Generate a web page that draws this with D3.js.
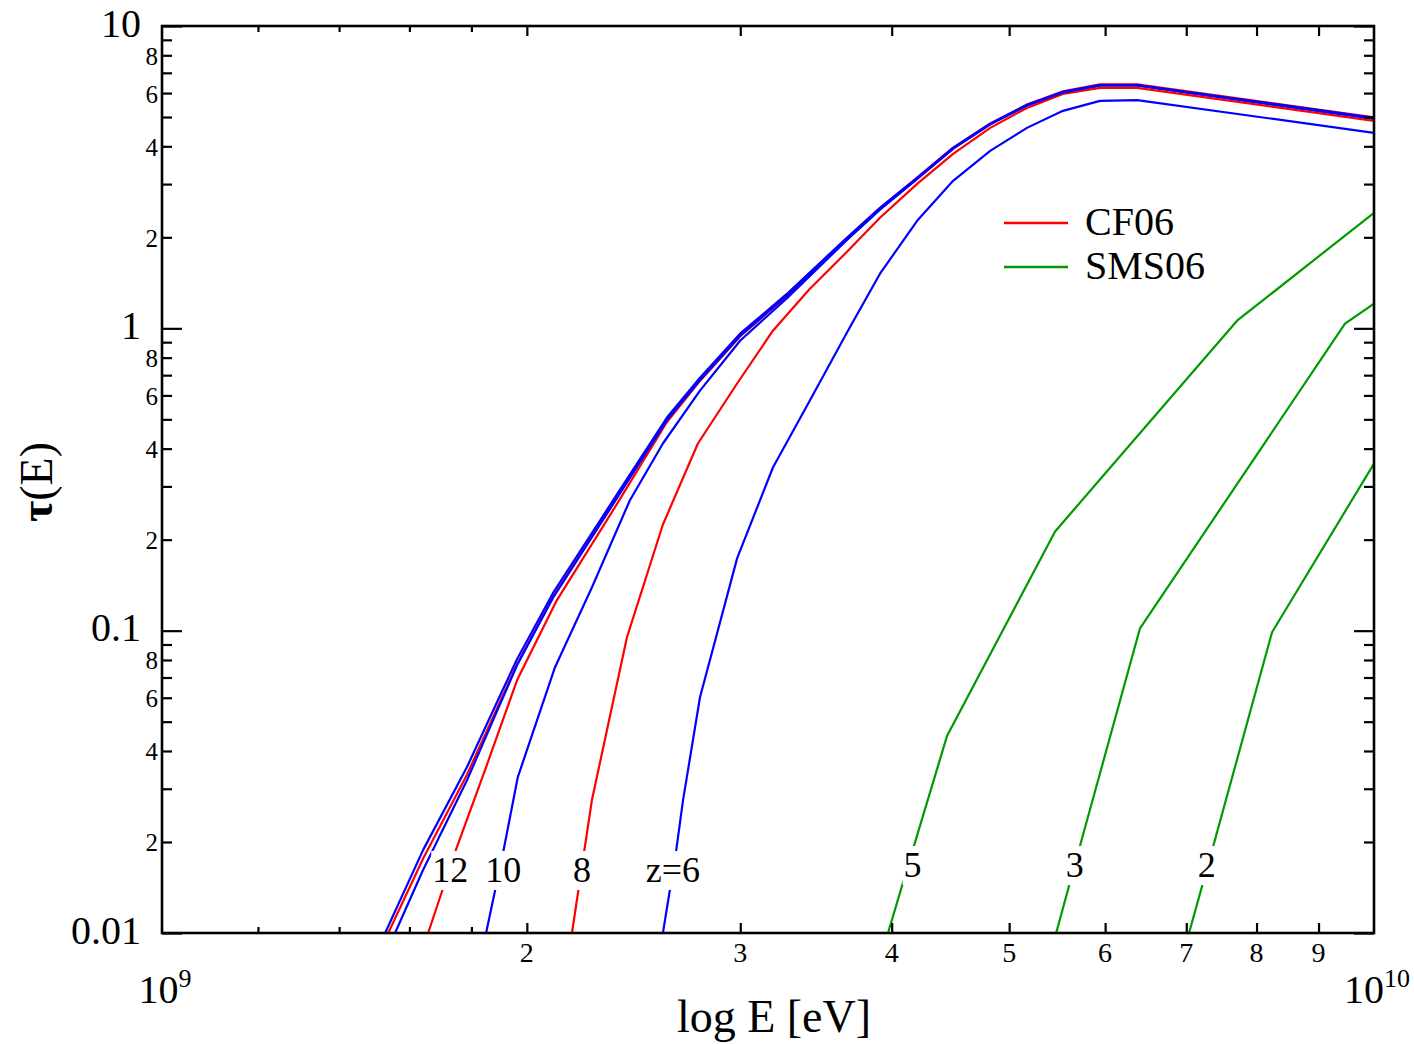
<!DOCTYPE html>
<html>
<head>
<meta charset="utf-8">
<script src="https://cdn.jsdelivr.net/npm/d3@7"></script>
<style>
  html, body { margin: 0; padding: 0; background: #fff; }
  svg { display: block; }
  text { font-family: "Liberation Serif", "Times New Roman", serif; fill: #000; }
</style>
</head>
<body>
<svg id="chart" width="1414" height="1044"></svg>
<script>
// ---------------- data ----------------
// CF06 model (red) and companion (blue) curves, E in eV, tau dimensionless
const blueA_E   = [1.528e9, 1.642e9, 1.785e9, 1.893e9, 1.963e9, 2.101e9, 2.356e9, 2.610e9, 2.779e9, 2.999e9, 3.280e9, 3.674e9, 3.912e9, 4.198e9, 4.495e9, 4.823e9, 5.172e9, 5.538e9, 5.941e9, 6.376e9, 1.0e10];
const blueA_tau = [0.010, 0.0188, 0.0354, 0.0589, 0.0804, 0.1328, 0.2696, 0.507, 0.687, 0.960, 1.302, 1.994, 2.504, 3.147, 3.954, 4.746, 5.483, 6.053, 6.38, 6.38, 4.966];

const redB_E    = [1.537e9, 1.642e9, 1.785e9, 1.893e9, 1.963e9, 2.101e9, 2.356e9, 2.610e9, 2.779e9, 2.999e9, 3.280e9, 3.674e9, 3.912e9, 4.198e9, 4.495e9, 4.823e9, 5.172e9, 5.538e9, 5.941e9, 6.376e9, 1.0e10];
const redB_tau  = [0.010, 0.0176, 0.0334, 0.0561, 0.0773, 0.129, 0.264, 0.500, 0.680, 0.958, 1.30, 1.99, 2.50, 3.15, 3.96, 4.76, 5.50, 6.08, 6.41, 6.41, 4.99];

const blueC_E   = [1.557e9, 1.642e9, 1.785e9, 1.893e9, 1.963e9, 2.101e9, 2.356e9, 2.610e9, 2.779e9, 2.999e9, 3.280e9, 3.674e9, 3.912e9, 4.198e9, 4.495e9, 4.823e9, 5.172e9, 5.538e9, 5.941e9, 6.376e9, 1.0e10];
const blueC_tau = [0.010, 0.01615, 0.032, 0.055, 0.0768, 0.128, 0.262, 0.497, 0.675, 0.945, 1.29, 1.975, 2.49, 3.13, 3.94, 4.74, 5.47, 6.04, 6.37, 6.37, 4.95];

const red12_E   = [1.658e9, 1.745e9, 1.851e9, 1.963e9, 2.117e9, 2.373e9, 2.610e9, 2.779e9, 2.999e9, 3.280e9, 3.674e9, 3.912e9, 4.198e9, 4.495e9, 4.823e9, 5.172e9, 5.538e9, 5.941e9, 6.376e9, 1.0e10];
const red12_tau = [0.010, 0.0185, 0.0354, 0.0685, 0.126, 0.262, 0.49, 0.67, 0.94, 1.28, 1.97, 2.48, 3.12, 3.93, 4.73, 5.46, 6.03, 6.36, 6.36, 4.95];

const blue10_E   = [1.851e9, 1.912e9, 1.966e9, 2.110e9, 2.263e9, 2.432e9, 2.590e9, 2.779e9, 2.999e9, 3.280e9, 3.674e9, 3.912e9, 4.198e9, 4.495e9, 4.823e9, 5.172e9, 5.538e9, 5.941e9, 6.376e9, 1.0e10];
const blue10_tau = [0.010, 0.0185, 0.0328, 0.0757, 0.139, 0.2696, 0.416, 0.622, 0.91, 1.26, 1.96, 2.47, 3.12, 3.93, 4.73, 5.46, 6.03, 6.36, 6.36, 4.94];

const red8_E   = [2.179e9, 2.263e9, 2.419e9, 2.590e9, 2.768e9, 2.982e9, 3.192e9, 3.424e9, 3.681e9, 3.912e9, 4.198e9, 4.495e9, 4.823e9, 5.172e9, 5.538e9, 5.941e9, 6.376e9, 1.0e10];
const red8_tau = [0.010, 0.0275, 0.0951, 0.2245, 0.416, 0.657, 0.982, 1.352, 1.805, 2.321, 3.006, 3.777, 4.603, 5.358, 5.962, 6.24, 6.24, 4.855];

const blue6_E   = [2.590e9, 2.655e9, 2.691e9, 2.779e9, 2.982e9, 3.192e9, 3.424e9, 3.681e9, 3.912e9, 4.198e9, 4.495e9, 4.823e9, 5.172e9, 5.538e9, 5.941e9, 6.376e9, 1.0e10];
const blue6_tau = [0.010, 0.0185, 0.0275, 0.0602, 0.1734, 0.3465, 0.577, 0.982, 1.516, 2.268, 3.075, 3.864, 4.603, 5.24, 5.652, 5.69, 4.43];

// SMS06 model (green)
const green5_E   = [3.972e9, 4.174e9, 4.443e9, 5.456e9, 7.709e9, 1.0e10];
const green5_tau = [0.010, 0.0195, 0.0448, 0.2129, 1.06, 2.41];
const green3_E   = [5.467e9, 5.728e9, 6.411e9, 9.464e9, 1.0e10];
const green3_tau = [0.010, 0.0198, 0.1018, 1.036, 1.206];
const green2_E   = [7.037e9, 7.379e9, 8.239e9, 1.0e10];
const green2_tau = [0.010, 0.0198, 0.0988, 0.357];

// curve labels (text and anchor in data coordinates)
const curveLabelText = ["12", "10", "8", "z=6", "5", "3", "2"];
const curveLabelE    = [1.729e9, 1.912e9, 2.221e9, 2.640e9, 4.162e9, 5.663e9, 7.278e9];
const curveLabelTau  = [0.01475, 0.01475, 0.01475, 0.01475, 0.01532, 0.01532, 0.01532];

// legend
const legendNames = ["CF06", "SMS06"];

// ticks
const xSmallTicks    = [1.2e9, 1.4e9, 1.6e9, 1.8e9];
const xLabeledTicks  = [2e9, 3e9, 4e9, 5e9, 6e9, 7e9, 8e9, 9e9];
const xTickLabels    = ["2", "3", "4", "5", "6", "7", "8", "9"];
const yMajorTicks    = [0.01, 0.1, 1, 10];
const yMajorLabels   = ["0.01", "0.1", "1", "10"];
const yMinorMult     = [2, 3, 4, 5, 6, 7, 8, 9];
const yMinorLabelMult = [2, 4, 6, 8];

// ---------------- drawing ----------------
const COLORS = { red: "#ff0000", blue: "#0000ff", green: "#009a00" };
const L = 162, R = 1374, T = 26, B = 933;

const svg = d3.select("#chart");
const x = d3.scaleLog().domain([1e9, 1e10]).range([L, R]);
const y = d3.scaleLog().domain([0.01, 10]).range([B, T]);

svg.append("defs").append("clipPath").attr("id", "plotclip")
  .append("rect").attr("x", L).attr("y", T).attr("width", R - L).attr("height", B - T);

const plot = svg.append("g").attr("clip-path", "url(#plotclip)");
const line = d3.line().x(d => x(d[0])).y(d => y(d[1]));
const zip = (a, b) => a.map((v, i) => [v, b[i]]);

const series = [
  { E: green5_E, t: green5_tau, c: COLORS.green },
  { E: green3_E, t: green3_tau, c: COLORS.green },
  { E: green2_E, t: green2_tau, c: COLORS.green },
  { E: red8_E,   t: red8_tau,   c: COLORS.red },
  { E: red12_E,  t: red12_tau,  c: COLORS.red },
  { E: redB_E,   t: redB_tau,   c: COLORS.red },
  { E: blue6_E,  t: blue6_tau,  c: COLORS.blue },
  { E: blue10_E, t: blue10_tau, c: COLORS.blue },
  { E: blueC_E,  t: blueC_tau,  c: COLORS.blue },
  { E: blueA_E,  t: blueA_tau,  c: COLORS.blue },
];
series.forEach(s => {
  plot.append("path").datum(zip(s.E, s.t))
    .attr("d", line).attr("fill", "none")
    .attr("stroke", s.c).attr("stroke-width", 2.2)
    .attr("stroke-linejoin", "round");
});

// curve labels with white background
const labG = svg.append("g");
curveLabelText.forEach((txt, i) => {
  const g = labG.append("g");
  const t = g.append("text")
    .attr("x", x(curveLabelE[i])).attr("y", y(curveLabelTau[i]))
    .attr("text-anchor", "middle").attr("font-size", 36).text(txt);
  const bb = t.node().getBBox();
  g.insert("rect", "text").attr("x", bb.x - 1).attr("y", bb.y + 1)
    .attr("width", bb.width + 2).attr("height", bb.height - 1).attr("fill", "#fff");
});

// frame
svg.append("rect").attr("x", L).attr("y", T).attr("width", R - L).attr("height", B - T)
  .attr("fill", "none").attr("stroke", "#000").attr("stroke-width", 2.6);

// ticks via d3 axes (inward)
function tickAxis(axisFn, scale, values, len, tx, ty) {
  const a = axisFn(scale).tickValues(values).tickSizeInner(-len).tickSizeOuter(0).tickFormat("");
  const g = svg.append("g").attr("transform", `translate(${tx},${ty})`).call(a);
  g.select(".domain").remove();
  g.selectAll("line").attr("stroke", "#000").attr("stroke-width", 2.2);
}
tickAxis(d3.axisBottom, x, xSmallTicks, 6, 0, B);
tickAxis(d3.axisBottom, x, xLabeledTicks, 10, 0, B);
tickAxis(d3.axisTop, x, xSmallTicks, 6, 0, T);
tickAxis(d3.axisTop, x, xLabeledTicks, 10, 0, T);

const yMinorTicks = [];
[0.01, 0.1, 1].forEach(d => yMinorMult.forEach(m => yMinorTicks.push(d * m)));
tickAxis(d3.axisLeft, y, yMinorTicks, 10, L, 0);
tickAxis(d3.axisLeft, y, yMajorTicks, 20, L, 0);
tickAxis(d3.axisRight, y, yMinorTicks, 10, R, 0);
tickAxis(d3.axisRight, y, yMajorTicks, 20, R, 0);

// x tick labels
xLabeledTicks.forEach((v, i) => {
  svg.append("text").attr("x", x(v)).attr("y", 962)
    .attr("text-anchor", "middle").attr("font-size", 28).text(xTickLabels[i]);
});
// 10^9 and 10^10
[[1e9, "9"], [1e10, "10"]].forEach(([v, ex]) => {
  const t = svg.append("text").attr("x", x(v) + 3).attr("y", 1003)
    .attr("text-anchor", "middle").attr("font-size", 40);
  t.append("tspan").text("10");
  t.append("tspan").attr("font-size", 26).attr("dy", -16).text(ex);
});

// y tick labels
yMajorTicks.forEach((v, i) => {
  svg.append("text").attr("x", 141).attr("y", y(v) - 3)
    .attr("text-anchor", "end").attr("dominant-baseline", "central")
    .attr("font-size", 40).text(yMajorLabels[i]);
});
[0.01, 0.1, 1].forEach(d => yMinorLabelMult.forEach(m => {
  svg.append("text").attr("x", 158).attr("y", y(d * m) + 1)
    .attr("text-anchor", "end").attr("dominant-baseline", "central")
    .attr("font-size", 25).text(String(m));
}));

// axis titles
svg.append("text").attr("x", 774).attr("y", 1032).attr("text-anchor", "middle")
  .attr("font-size", 46).text("log E [eV]");
const yt = svg.append("text").attr("transform", "translate(52,482) rotate(-90)")
  .attr("text-anchor", "middle").attr("font-size", 46);
yt.append("tspan").attr("font-weight", "bold").text("τ");
yt.append("tspan").text("(E)");

// legend
const legColors = [COLORS.red, COLORS.green];
legendNames.forEach((n, i) => {
  const ly = 223 + i * 44;
  svg.append("line").attr("x1", 1004).attr("x2", 1068).attr("y1", ly).attr("y2", ly)
    .attr("stroke", legColors[i]).attr("stroke-width", 2.4);
  svg.append("text").attr("x", 1085).attr("y", ly + 12).attr("font-size", 40).text(n);
});
</script>
</body>
</html>
